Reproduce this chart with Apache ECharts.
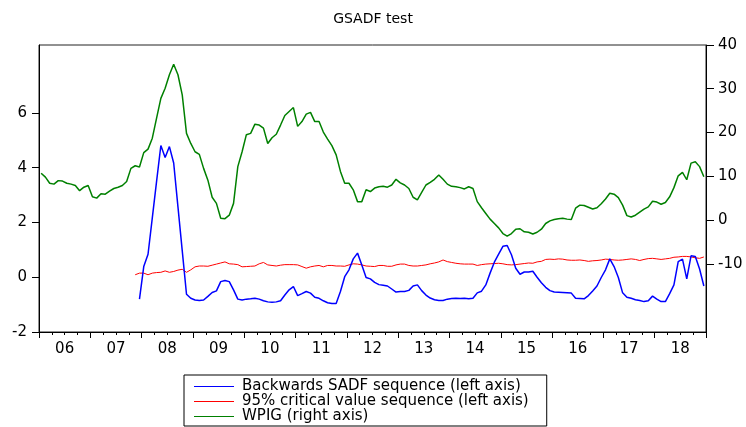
<!DOCTYPE html>
<html>
<head>
<meta charset="utf-8">
<script src="https://cdn.jsdelivr.net/npm/echarts@6/dist/echarts.min.js"></script>
<style>
  html, body { margin: 0; padding: 0; background: #fff; }
  #chart { width: 746px; height: 427px; }
</style>
</head>
<body>
<div id="chart"></div>
<script>
// monthly observations, first month = 2006-01
const startYear = 2006
const yearLabels = ['06', '07', '08', '09', '10', '11', '12', '13', '14', '15', '16', '17', '18']
const leftTicks = [-2, 0, 2, 4, 6]
const rightTicks = [-10, 0, 10, 20, 30, 40]

// WPIG (right axis), 2006-01 .. 2018-12
const wpig = [
  10.7, 9.8, 8.4, 8.2, 9.0, 8.9, 8.4, 8.2, 7.9, 6.7,
  7.5, 7.9, 5.3, 5.0, 6.0, 5.9, 6.6, 7.2, 7.5, 7.9,
  8.8, 11.8, 12.4, 12.1, 15.4, 16.2, 18.7, 23.3, 27.8, 30.1,
  33.2, 35.6, 33.2, 28.6, 19.8, 17.5, 15.6, 15.0, 11.8, 9.1,
  5.2, 3.8, 0.4, 0.3, 1.1, 3.8, 12.2, 15.6, 19.5, 19.8,
  21.9, 21.7, 21.0, 17.5, 18.8, 19.6, 21.7, 23.9, 24.8, 25.7,
  21.4, 22.5, 24.2, 24.6, 22.5, 22.5, 20.1, 18.5, 17.0, 14.9,
  11.1, 8.4, 8.4, 6.9, 4.2, 4.2, 6.9, 6.5, 7.3, 7.6,
  7.7, 7.5, 8.0, 9.3, 8.5, 8.0, 7.2, 5.2, 4.6, 6.3,
  8.0, 8.6, 9.3, 10.3, 9.3, 8.2, 7.7, 7.6, 7.4, 7.1,
  7.6, 7.2, 4.2, 2.8, 1.5, 0.2, -0.8, -1.8, -3.1, -3.7,
  -3.1, -2.1, -2.0, -2.7, -2.8, -3.2, -2.8, -2.1, -0.8, -0.2,
  0.1, 0.3, 0.4, 0.2, 0.1, 2.7, 3.4, 3.3, 2.9, 2.5,
  2.8, 3.7, 4.8, 6.1, 5.9, 5.1, 3.4, 1.0, 0.7, 1.1,
  1.8, 2.5, 3.0, 4.3, 4.1, 3.6, 4.0, 5.3, 7.4, 10.1,
  10.9, 9.2, 13.0, 13.3, 12.2, 9.9
]

// backwards SADF sequence, from month index 23 (2007-12)
const sadfStart = 23
const sadf = [
  -0.80, 0.39, 0.84, 2.17, 3.50, 4.81, 4.37,
  4.77, 4.17, 2.57, 0.97, -0.62, -0.77, -0.83, -0.85, -0.83, -0.70,
  -0.56, -0.50, -0.16, -0.12, -0.16, -0.46, -0.80, -0.83, -0.80, -0.79,
  -0.77, -0.80, -0.86, -0.90, -0.91, -0.90, -0.86, -0.65, -0.46, -0.34,
  -0.67, -0.60, -0.52, -0.58, -0.73, -0.77, -0.86, -0.93, -0.96, -0.96,
  -0.52, 0.02, 0.27, 0.67, 0.88, 0.45, -0.01, -0.06, -0.19, -0.27,
  -0.29, -0.32, -0.43, -0.54, -0.52, -0.52, -0.48, -0.32, -0.28, -0.49,
  -0.65, -0.76, -0.82, -0.85, -0.85, -0.80, -0.78, -0.77, -0.78, -0.77,
  -0.79, -0.77, -0.57, -0.51, -0.28, 0.15, 0.55, 0.84, 1.13, 1.16,
  0.82, 0.33, 0.11, 0.19, 0.19, 0.22, 0.00, -0.20, -0.37, -0.49,
  -0.54, -0.55, -0.56, -0.57, -0.58, -0.77, -0.78, -0.79, -0.67, -0.50,
  -0.32, -0.01, 0.27, 0.67, 0.39, -0.01, -0.57, -0.73, -0.77, -0.82,
  -0.85, -0.89, -0.86, -0.69, -0.80, -0.89, -0.89, -0.60, -0.28, 0.57,
  0.66, -0.06, 0.78, 0.76, 0.30, -0.32
]

// 95% critical value sequence, from month index 22 (2007-11)
const cvStart = 22
const cv95 = [
  0.09, 0.15, 0.15, 0.09, 0.15, 0.17, 0.18, 0.23,
  0.18, 0.21, 0.26, 0.29, 0.18, 0.27, 0.38, 0.41, 0.41, 0.40,
  0.44, 0.48, 0.52, 0.56, 0.49, 0.48, 0.46, 0.38, 0.39, 0.40,
  0.41, 0.49, 0.54, 0.45, 0.43, 0.41, 0.44, 0.46, 0.46, 0.46,
  0.45, 0.39, 0.33, 0.38, 0.41, 0.43, 0.38, 0.43, 0.43, 0.41,
  0.41, 0.40, 0.45, 0.49, 0.48, 0.45, 0.41, 0.40, 0.39, 0.43,
  0.43, 0.40, 0.40, 0.45, 0.48, 0.48, 0.43, 0.41, 0.41, 0.43,
  0.45, 0.49, 0.52, 0.56, 0.63, 0.57, 0.54, 0.51, 0.49, 0.48,
  0.48, 0.48, 0.43, 0.46, 0.48, 0.49, 0.50, 0.51, 0.49, 0.46,
  0.45, 0.46, 0.48, 0.50, 0.52, 0.51, 0.56, 0.58, 0.65, 0.66,
  0.65, 0.67, 0.66, 0.63, 0.62, 0.62, 0.63, 0.61, 0.58, 0.60,
  0.61, 0.63, 0.66, 0.65, 0.63, 0.62, 0.63, 0.65, 0.67, 0.65,
  0.61, 0.65, 0.68, 0.69, 0.67, 0.65, 0.67, 0.69, 0.73, 0.74,
  0.76, 0.76, 0.74, 0.71, 0.69, 0.74
]

// month index -> position on the year axis (middle of the month)
const toPairs = (vals, start) => vals.map((v, k) => [startYear + (start + k + 0.5) / 12, v])

const font = 'DejaVu Sans'
const axisFont = { color: '#000', fontSize: 15, fontFamily: font }

const chart = echarts.init(document.getElementById('chart'))
chart.setOption({
  animation: false,
  title: {
    text: 'GSADF test', left: 'center', top: 7,
    textStyle: { fontSize: 14, fontWeight: 'normal', color: '#000', fontFamily: font }
  },
  grid: { left: 39, right: 40, top: 45, bottom: 95, show: true, borderColor: '#222', borderWidth: 1 },
  legend: {
    orient: 'vertical', left: 184, top: 375, height: 80,
    padding: [4, 18, 2, 10], itemGap: 0,
    borderColor: '#000', borderWidth: 1,
    icon: 'rect', itemWidth: 40, itemHeight: 1,
    textStyle: { fontSize: 15, color: '#000', fontFamily: font, padding: [0, 0, 0, 3], lineHeight: 14 },
    data: ['Backwards SADF sequence (left axis)', '95% critical value sequence (left axis)', 'WPIG (right axis)']
  },
  xAxis: {
    type: 'value', min: startYear, max: startYear + yearLabels.length, interval: 1,
    axisLine: { onZero: false, lineStyle: { color: '#000', width: 1 } },
    axisTick: { length: 6, lineStyle: { color: '#000' } },
    minorTick: { show: true, splitNumber: 4, length: 3, lineStyle: { color: '#000' } },
    splitLine: { show: false },
    minorSplitLine: { show: false },
    axisLabel: {
      ...axisFont, margin: 10,
      customValues: yearLabels.map((_, k) => startYear + k + 0.5),
      formatter: v => yearLabels[Math.floor(v) - startYear]
    }
  },
  yAxis: [
    {
      type: 'value', min: -2, max: 8.48, position: 'left',
      axisLine: { show: true, onZero: false, lineStyle: { color: '#000' } },
      axisTick: { show: true, length: 7, customValues: leftTicks, lineStyle: { color: '#000' } },
      splitLine: { show: false },
      axisLabel: { ...axisFont, margin: 12, customValues: leftTicks }
    },
    {
      type: 'value', min: -25.6, max: 40, position: 'right',
      axisLine: { show: true, onZero: false, lineStyle: { color: '#000' } },
      axisTick: { show: true, length: 8, customValues: rightTicks, lineStyle: { color: '#000' } },
      splitLine: { show: false },
      axisLabel: { ...axisFont, margin: 12, customValues: rightTicks }
    }
  ],
  series: [
    {
      name: 'Backwards SADF sequence (left axis)', type: 'line', yAxisIndex: 0,
      data: toPairs(sadf, sadfStart), symbol: 'none', color: '#0000ff',
      lineStyle: { width: 1.5, color: '#0000ff' }, z: 4
    },
    {
      name: '95% critical value sequence (left axis)', type: 'line', yAxisIndex: 0,
      data: toPairs(cv95, cvStart), symbol: 'none', color: '#ff0000',
      lineStyle: { width: 1, color: '#ff0000' }, z: 3
    },
    {
      name: 'WPIG (right axis)', type: 'line', yAxisIndex: 1,
      data: toPairs(wpig, 0), symbol: 'none', color: '#008000',
      lineStyle: { width: 1.5, color: '#008000' }, z: 2
    }
  ]
})
</script>
</body>
</html>
